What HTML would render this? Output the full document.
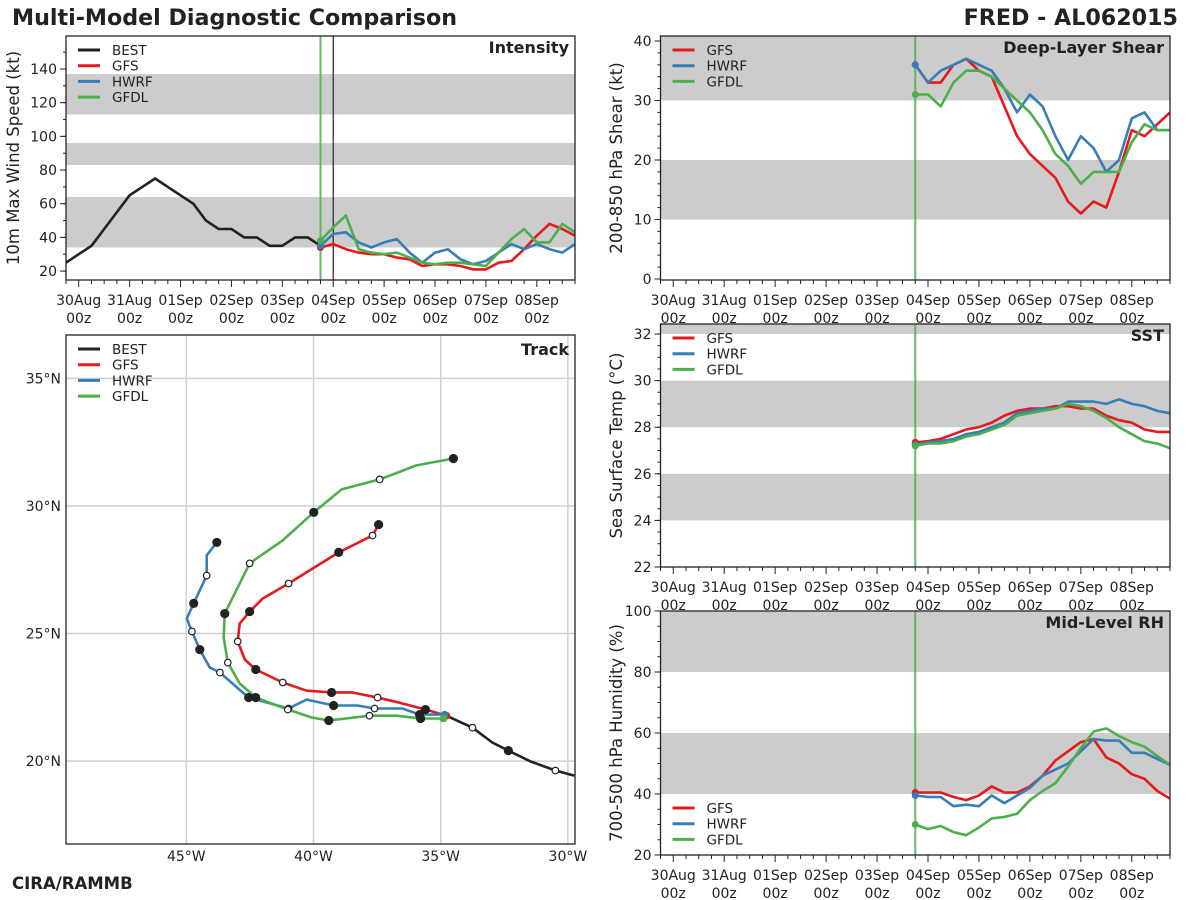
<!DOCTYPE html>
<html><head><meta charset="utf-8">
<style>
html,body{margin:0;padding:0;background:#fff;}
svg{display:block;font-family:"DejaVu Sans","Liberation Sans",sans-serif;}
</style></head>
<body>
<svg id="root" width="1200" height="900" viewBox="0 0 1200 900" xmlns="http://www.w3.org/2000/svg">
<text x="12" y="25" font-size="22.2" font-weight="bold" fill="#222">Multi-Model Diagnostic Comparison</text>
<text x="1178" y="25" font-size="22.2" font-weight="bold" fill="#222" text-anchor="end">FRED - AL062015</text>
<text x="12" y="889" font-size="16.5" font-weight="bold" fill="#222">CIRA/RAMMB</text>
</svg>
<script>
// ---- data (6-hourly steps starting 29Aug 18z) ----
const dayLabels = ["30Aug","31Aug","01Sep","02Sep","03Sep","04Sep","05Sep","06Sep","07Sep","08Sep"];
const bestIntensity = [25,30,35,45,55,65,70,75,70,65,60,50,45,45,40,40,35,35,40,40,35];
const gfsIntensity = [34,36,33,31,30,30,28,27,23,24,24,23,21,21,25,26,33,41,48,45,41];
const hwrfIntensity = [35,42,43,37,34,37,39,31,25,31,33,27,24,26,31,36,33,36,33,31,36];
const gfdlIntensity = [38,46,53,33,31,30,31,28,25,24,25,25,24,23,31,39,45,37,37,48,43];
const gfsShear = [36,33,33,36,37,35,34,29,24,21,19,17,13,11,13,12,18,25,24,26,28];
const hwrfShear = [36,33,35,36,37,36,35,32,28,31,29,24,20,24,22,18,20,27,28,25,25];
const gfdlShear = [31,31,29,33,35,35,34,32,30,28,25,21,19,16,18,18,18,23,26,25,25];
const gfsSST = [27.35,27.4,27.5,27.7,27.9,28.0,28.2,28.5,28.7,28.8,28.8,28.9,28.9,28.8,28.8,28.5,28.3,28.2,27.9,27.8,27.8];
const hwrfSST = [27.25,27.35,27.4,27.5,27.7,27.8,28.0,28.2,28.6,28.7,28.8,28.8,29.1,29.1,29.1,29.0,29.2,29.0,28.9,28.7,28.6];
const gfdlSST = [27.2,27.3,27.3,27.4,27.6,27.7,27.9,28.1,28.5,28.6,28.7,28.8,29.0,28.9,28.7,28.4,28.0,27.7,27.4,27.3,27.1];
const gfsRH = [40.5,40.5,40.5,39,38,39.5,42.5,40.5,40.5,42.5,46,51,54,57,58,52,50,46.5,45,41,38.5];
const hwrfRH = [39.5,39,39,36,36.5,36,39.5,37,39.5,42,46,48,50,54,58,57.5,57.5,53.5,53.5,51.5,49.5];
const gfdlRH = [30,28.5,29.5,27.5,26.5,29,32,32.5,33.5,38,41,43.5,49,55,60.5,61.5,59,57,55.5,52.5,49.5];
// track: lon, lat, marker (0 none, 1 filled, 2 open)
const bestLon = [-34.77,-33.75,-32.97,-32.34,-31.5,-30.49,-29.75];
const bestLat = [21.78,21.31,20.73,20.41,20.0,19.63,19.43];
const bestMark = [0,2,0,1,0,2,0];
const gfsLon = [-34.77,-35.60,-36.62,-37.48,-38.50,-39.29,-40.27,-41.21,-42.27,-42.70,-42.98,-42.90,-42.51,-42.00,-40.98,-39.01,-37.68,-37.44];
const gfsLat = [21.78,22.02,22.29,22.49,22.69,22.69,22.76,23.08,23.59,23.98,24.69,25.39,25.86,26.37,26.96,28.18,28.84,29.27];
const gfsMark = [0,1,0,2,0,1,0,2,1,0,2,0,1,0,2,1,2,1];
const hwrfLon = [-34.85,-35.83,-36.50,-37.60,-38.27,-39.21,-40.27,-40.98,-42.55,-43.68,-44.08,-44.47,-44.78,-44.98,-44.71,-44.20,-44.20,-43.80];
const hwrfLat = [21.82,21.82,22.06,22.06,22.18,22.18,22.41,22.06,22.49,23.47,23.67,24.37,25.08,25.59,26.18,27.27,28.06,28.57];
const hwrfMark = [0,1,0,2,0,1,0,2,1,2,0,1,2,0,1,2,0,1];
const gfdlLon = [-34.89,-35.79,-36.74,-37.80,-39.40,-40.07,-41.01,-42.27,-42.90,-43.37,-43.53,-43.49,-42.51,-41.21,-39.99,-38.89,-37.40,-35.95,-34.50];
const gfdlLat = [21.67,21.67,21.78,21.78,21.59,21.71,22.02,22.49,23.04,23.86,24.84,25.78,27.75,28.65,29.75,30.65,31.04,31.59,31.86];
const gfdlMark = [0,1,0,2,1,0,2,1,0,2,0,1,2,0,1,0,2,0,1];
const lonTicks = [-45,-40,-35,-30];
const latTicks = [20,25,30,35];

const NS="http://www.w3.org/2000/svg";
const root=document.getElementById('root');
const C={best:"#222222",gfs:"#e41a1c",hwrf:"#377eb8",gfdl:"#4daf4a"};
function mk(tag,attrs,parent){const e=document.createElementNS(NS,tag);for(const k in attrs)e.setAttribute(k,attrs[k]);(parent||root).appendChild(e);return e;}
function txt(s,attrs,parent){const e=mk('text',attrs,parent);e.textContent=s;return e;}

function timePanel(p){
  const g=mk('g',{});
  
  
  const sx=i=>p.x0+(i)*(p.x1-p.x0)/40;
  const sy=v=>p.y1-(v-p.ymin)*(p.y1-p.y0)/(p.ymax-p.ymin);
  const clip='clip-'+p.name;
  const cp=mk('clipPath',{id:clip},g);mk('rect',{x:p.x0,y:p.y0,width:p.x1-p.x0,height:p.y1-p.y0},cp);
  p.bands.forEach(b=>{const r=mk('rect',{x:p.x0,y:sy(Math.min(b[1],p.ymax)),width:p.x1-p.x0,height:sy(b[0])-sy(Math.min(b[1],p.ymax)),fill:"#cccccc"},g);
    });
  p.yticks.forEach(v=>{const y=sy(v);mk('line',{x1:p.x0-6,x2:p.x0,y1:y,y2:y,stroke:"#222","stroke-width":1},g);
    const t=txt(String(v),{x:p.x0-9,y:y+5,"font-size":14,"text-anchor":"end",fill:"#222"},g);
    });
  for(let v=Math.ceil(p.ymin/p.ystepMinor)*p.ystepMinor;v<=p.ymax;v+=p.ystepMinor){const y=sy(v);mk('line',{x1:p.x0-3,x2:p.x0,y1:y,y2:y,stroke:"#222","stroke-width":1},g);}
  for(let i=0;i<=40;i++){const x=sx(i);const major=(i-1)%4===0;
    mk('line',{x1:x,x2:x,y1:p.y1,y2:p.y1+(major?7:4),stroke:"#222","stroke-width":1},g);
    if(major){const k=(i-1)/4;if(k<dayLabels.length){
      const t1=txt(dayLabels[k],{x:x,y:p.y1+25,"font-size":14,"text-anchor":"middle",fill:"#222"},g);
      
      const t2=txt("00z",{x:x,y:p.y1+43,"font-size":14,"text-anchor":"middle",fill:"#222"},g);
      }}}
  const yl=txt(p.ylabel,{x:0,y:0,"font-size":16.5,"text-anchor":"middle",fill:"#222",transform:`translate(${p.ylx},${(p.y0+p.y1)/2}) rotate(-90)`},g);
  
  const inner=mk('g',{"clip-path":`url(#${clip})`},g);
  const vl=mk('line',{x1:sx(20),x2:sx(20),y1:p.y0,y2:p.y1,stroke:"#4daf4a","stroke-width":2,"stroke-opacity":0.85},inner);
  
  if(p.nowLine){const l=mk('line',{x1:sx(21),x2:sx(21),y1:p.y0,y2:p.y1,stroke:"#222","stroke-width":1.2},inner);
    }
  p.series.forEach(s=>{
    const pts=s.vals.map((v,j)=>sx(s.start+j).toFixed(1)+","+sy(v).toFixed(1)).join(" ");
    const pl=mk('polyline',{points:pts,fill:"none",stroke:s.color,"stroke-width":2.6,"stroke-linejoin":"round"},inner);
    
    if(s.start===20){const d=mk('circle',{cx:sx(20),cy:sy(s.vals[0]),r:3.5,fill:s.color},inner);
      }
  });
  mk('rect',{x:p.x0,y:p.y0,width:p.x1-p.x0,height:p.y1-p.y0,fill:"none",stroke:"#222","stroke-width":1.3},g);
  const tt=txt(p.title,{x:p.x1-6,y:p.y0+17,"font-size":16,"font-weight":"bold","text-anchor":"end",fill:"#222"},g);
  
  legend(g,p.x0+12,p.legY,p.series.filter(s=>s.legend));
}
function legend(g,x,y,items){
  const lg=mk('g',{},g);
  
  
  items.forEach((s,k)=>{const yy=y+k*15.7;
    const e=mk('g',{},lg);
    
    
    mk('line',{x1:x,x2:x+22,y1:yy,y2:yy,stroke:s.color,"stroke-width":3},e);
    txt(s.label,{x:x+34,y:yy+5,"font-size":13.5,fill:"#222"},e);});
}
const mS=(key,label,vals,start)=>({key,label,vals,start,color:C[key],legend:true});
timePanel({name:'intensity-panel',title:'Intensity',x0:66,x1:575,y0:36,y1:280,ymin:14.7,ymax:159.6,yticks:[20,40,60,80,100,120,140],ystepMinor:10,
  bands:[[34,64],[83,96],[113,137]],ylabel:'10m Max Wind Speed (kt)',ylx:19,nowLine:true,legY:50,
  series:[mS('best','BEST',bestIntensity,0),mS('gfs','GFS',gfsIntensity,20),mS('hwrf','HWRF',hwrfIntensity,20),mS('gfdl','GFDL',gfdlIntensity,20)]});
timePanel({name:'shear-panel',title:'Deep-Layer Shear',x0:660.5,x1:1170,y0:36,y1:280,ymin:-0.17,ymax:40.84,yticks:[0,10,20,30,40],ystepMinor:2,
  bands:[[10,20],[30,45]],ylabel:'200-850 hPa Shear (kt)',ylx:622,legY:50,
  series:[mS('gfs','GFS',gfsShear,20),mS('hwrf','HWRF',hwrfShear,20),mS('gfdl','GFDL',gfdlShear,20)]});
timePanel({name:'sst-panel',title:'SST',x0:660.5,x1:1170,y0:324,y1:567,ymin:22,ymax:32.43,yticks:[22,24,26,28,30,32],ystepMinor:0.5,
  bands:[[24,26],[28,30],[32,34]],ylabel:'Sea Surface Temp (°C)',ylx:622,legY:338,
  series:[mS('gfs','GFS',gfsSST,20),mS('hwrf','HWRF',hwrfSST,20),mS('gfdl','GFDL',gfdlSST,20)]});
timePanel({name:'rh-panel',title:'Mid-Level RH',x0:660.5,x1:1170,y0:611,y1:855,ymin:20,ymax:100,yticks:[20,40,60,80,100],ystepMinor:5,
  bands:[[40,60],[80,100]],ylabel:'700-500 hPa Humidity (%)',ylx:622,legY:808,
  series:[mS('gfs','GFS',gfsRH,20),mS('hwrf','HWRF',hwrfRH,20),mS('gfdl','GFDL',gfdlRH,20)]});

// ---- track map ----
(function(){
  const X0=66,X1=575,Y0=335,Y1=844, lonMin=-49.73,lonMax=-29.72,latMin=16.75,latMax=36.7;
  const sx=l=>X0+(l-lonMin)*(X1-X0)/(lonMax-lonMin);
  const sy=l=>Y1-(l-latMin)*(Y1-Y0)/(latMax-latMin);
  const g=mk('g',{});
  
  
  const cp=mk('clipPath',{id:'clip-track'},g);mk('rect',{x:X0,y:Y0,width:X1-X0,height:Y1-Y0},cp);
  lonTicks.forEach(l=>{const x=sx(l);mk('line',{x1:x,x2:x,y1:Y0,y2:Y1,stroke:"#d0d0d0","stroke-width":1.5},g);
    const t=txt(Math.abs(l)+"°W",{x:x,y:Y1+17,"font-size":14,"text-anchor":"middle",fill:"#222"},g);
    });
  latTicks.forEach(l=>{const y=sy(l);mk('line',{x1:X0,x2:X1,y1:y,y2:y,stroke:"#d0d0d0","stroke-width":1.5},g);
    const t=txt(l+"°N",{x:X0-5,y:y+5,"font-size":14,"text-anchor":"end",fill:"#222"},g);
    });
  const inner=mk('g',{"clip-path":"url(#clip-track)"},g);
  const tracks=[['best',bestLon,bestLat,bestMark],['gfs',gfsLon,gfsLat,gfsMark],['hwrf',hwrfLon,hwrfLat,hwrfMark],['gfdl',gfdlLon,gfdlLat,gfdlMark]];
  tracks.forEach(([k,lo,la,m])=>{
    const pts=lo.map((v,j)=>sx(v).toFixed(1)+","+sy(la[j]).toFixed(1)).join(" ");
    const pl=mk('polyline',{points:pts,fill:"none",stroke:C[k],"stroke-width":2.6,"stroke-linejoin":"round"},inner);
    
  });
  tracks.forEach(([k,lo,la,m])=>{
    if(k!=='best'){const d=mk('circle',{cx:sx(lo[0]),cy:sy(la[0]),r:3.8,fill:C[k]},inner);
      }
    lo.forEach((v,j)=>{if(!m[j])return;
      const c=mk('circle',{cx:sx(v),cy:sy(la[j]),r:m[j]===1?4:3.3,fill:m[j]===1?"#222":"#fff",stroke:"#222","stroke-width":1.2},inner);
      });
  });
  mk('rect',{x:X0,y:Y0,width:X1-X0,height:Y1-Y0,fill:"none",stroke:"#222","stroke-width":1.3},g);
  const tt=txt('Track',{x:X1-6,y:Y0+20,"font-size":16,"font-weight":"bold","text-anchor":"end",fill:"#222"},g);
  
  legend(g,X0+12,349,[{key:'best',label:'BEST',color:C.best},{key:'gfs',label:'GFS',color:C.gfs},{key:'hwrf',label:'HWRF',color:C.hwrf},{key:'gfdl',label:'GFDL',color:C.gfdl}]);
})();
</script>
</body></html>
